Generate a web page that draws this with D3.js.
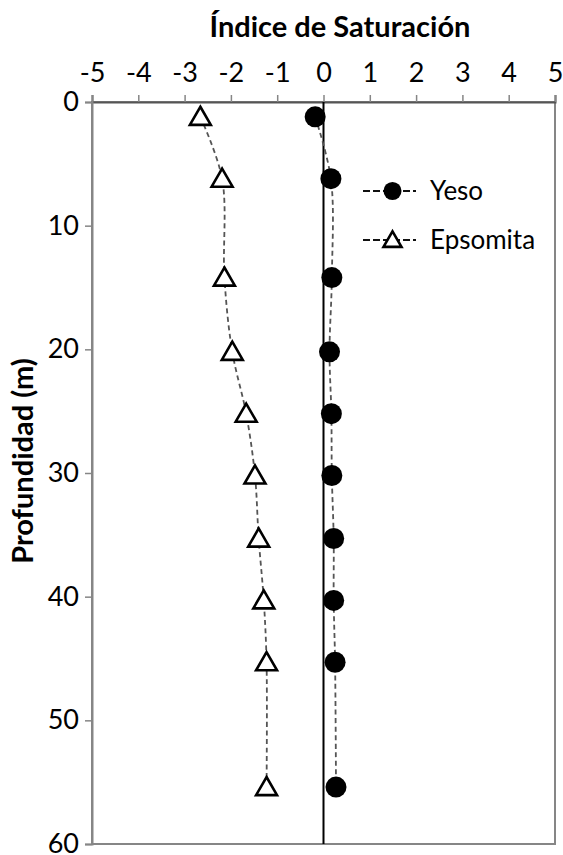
<!DOCTYPE html>
<html>
<head>
<meta charset="utf-8">
<script src="https://cdn.jsdelivr.net/npm/d3@7"></script>
<style>
  html, body { margin: 0; padding: 0; background: #fff; }
  svg { display: block; }
  text { font-family: Lato, "Open Sans", sans-serif; fill: #000; }
</style>
</head>
<body>
<svg id="chart" width="563" height="855"></svg>
<script>
// Depth of each sample (m)
const depths = [1.2, 6.2, 14.2, 20.2, 25.2, 30.2, 35.3, 40.3, 45.3, 55.4];
// Saturation index per mineral
const yeso = [-0.18, 0.16, 0.18, 0.13, 0.17, 0.18, 0.22, 0.22, 0.25, 0.27];
const epsomita = [-2.66, -2.19, -2.14, -1.97, -1.67, -1.48, -1.40, -1.29, -1.23, -1.23];
// Axis ticks
const xTicks = [-5, -4, -3, -2, -1, 0, 1, 2, 3, 4, 5];
const yTicks = [0, 10, 20, 30, 40, 50, 60];

const svg = d3.select("#chart");
const margin = { left: 92, top: 102, right: 8, bottom: 11 };
const W = 563, H = 855;
const x = d3.scaleLinear().domain([-5, 5]).range([margin.left, W - margin.right]);
const y = d3.scaleLinear().domain([0, 60]).range([margin.top, H - margin.bottom]);

const axisGray = "#868686";
const tickFont = "27px";

// Plot frame
svg.append("rect")
  .attr("x", x(-5)).attr("y", y(0))
  .attr("width", x(5) - x(-5)).attr("height", y(60) - y(0))
  .attr("fill", "none").attr("stroke", axisGray).attr("stroke-width", 2);

// Top (x) axis
const xAxis = svg.append("g")
  .attr("transform", `translate(0,${y(0)})`)
  .call(d3.axisTop(x).tickValues(xTicks).tickSize(7).tickPadding(13).tickFormat(d3.format("d")));
xAxis.select(".domain").attr("stroke", "#555").attr("stroke-width", 2);
xAxis.selectAll(".tick line").attr("stroke", axisGray).attr("stroke-width", 1.5);
xAxis.selectAll(".tick text")
  .style("font-size", tickFont).style("font-family", "Lato, 'Open Sans', sans-serif")
  .attr("fill", "#000")
  .text(d => d < 0 ? "-" + Math.abs(d) : d);

// Left (y) axis
const yAxis = svg.append("g")
  .attr("transform", `translate(${x(-5)},0)`)
  .call(d3.axisLeft(y).tickValues(yTicks).tickSize(7).tickPadding(6));
yAxis.select(".domain").attr("stroke", axisGray).attr("stroke-width", 2);
yAxis.selectAll(".tick line").attr("stroke", axisGray).attr("stroke-width", 1.5);
yAxis.selectAll(".tick text")
  .style("font-size", tickFont).style("font-family", "Lato, 'Open Sans', sans-serif")
  .attr("fill", "#000");

// Zero reference line
svg.append("line")
  .attr("x1", x(0)).attr("x2", x(0))
  .attr("y1", y(0)).attr("y2", y(60))
  .attr("stroke", "#000").attr("stroke-width", 2);

// Titles
svg.append("text")
  .attr("x", 340).attr("y", 37)
  .attr("text-anchor", "middle")
  .style("font-size", "29px").style("font-weight", "bold")
  .text("Índice de Saturación");

svg.append("text")
  .attr("transform", `translate(33,461) rotate(-90)`)
  .attr("text-anchor", "middle")
  .style("font-size", "29px").style("font-weight", "bold")
  .text("Profundidad (m)");

// Series
const series = [
  { name: "Yeso", values: yeso, shape: "circle" },
  { name: "Epsomita", values: epsomita, shape: "triangle" }
];

const line = d3.line()
  .x(d => x(d[0])).y(d => y(d[1]))
  .curve(d3.curveCatmullRom.alpha(0.5));

const dash = "5,3.5";
const lineColor = "#555";

const triSym = d3.symbol().type(d3.symbolTriangle).size(190);
const triPath = triSym();

function drawMarker(g, shape, cx, cy, scale) {
  if (shape === "circle") {
    g.append("circle").attr("cx", cx).attr("cy", cy).attr("r", 10.5 * scale)
      .attr("fill", "#000");
  } else {
    g.append("path").attr("d", triPath)
      .attr("transform", `translate(${cx},${cy + 2 * scale}) scale(${scale})`)
      .attr("fill", "#fff").attr("stroke", "#000").attr("stroke-width", 2.6 / scale);
  }
}

series.forEach(s => {
  const pts = s.values.map((v, i) => [v, depths[i]]);
  svg.append("path")
    .datum(pts)
    .attr("d", line)
    .attr("fill", "none")
    .attr("stroke", lineColor)
    .attr("stroke-width", 1.8)
    .attr("stroke-dasharray", dash);
  const g = svg.append("g");
  pts.forEach(p => drawMarker(g, s.shape, x(p[0]), y(p[1]), 1));
});

// Legend
const legend = svg.append("g");
series.forEach((s, i) => {
  const ly = 191 + i * 49;
  legend.append("line")
    .attr("x1", 363).attr("x2", 416).attr("y1", ly).attr("y2", ly)
    .attr("stroke", "#111").attr("stroke-width", 2)
    .attr("stroke-dasharray", "7,3");
  drawMarker(legend, s.shape, 392.5, ly, 0.86);
  legend.append("text")
    .attr("x", 430).attr("y", ly + 9)
    .style("font-size", "26px")
    .text(s.name);
});
</script>
</body>
</html>
